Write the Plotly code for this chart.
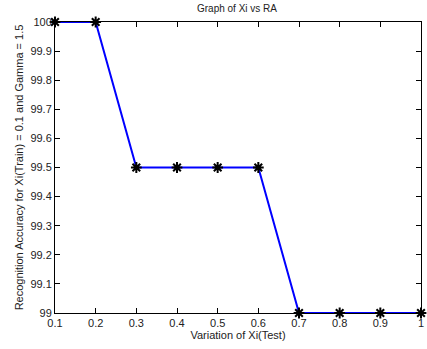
import plotly.graph_objects as go

xi = [0.1, 0.2, 0.3, 0.4, 0.5, 0.6, 0.7, 0.8, 0.9, 1.0]
ra = [100, 100, 99.5, 99.5, 99.5, 99.5, 99, 99, 99, 99]
xticks = [0.1, 0.2, 0.3, 0.4, 0.5, 0.6, 0.7, 0.8, 0.9, 1.0]
xticklabels = ["0.1", "0.2", "0.3", "0.4", "0.5", "0.6", "0.7", "0.8", "0.9", "1"]
yticks = [99, 99.1, 99.2, 99.3, 99.4, 99.5, 99.6, 99.7, 99.8, 99.9, 100]
yticklabels = ["99", "99.1", "99.2", "99.3", "99.4", "99.5", "99.6", "99.7", "99.8", "99.9", "100"]

fig = go.Figure()
fig.add_trace(go.Scatter(
    x=xi, y=ra, mode="lines",
    line=dict(color="#0000ff", width=2),
    showlegend=False, cliponaxis=False))
fig.add_trace(go.Scatter(
    x=xi, y=ra, mode="markers",
    marker=dict(symbol="asterisk-open", size=9, color="black",
                line=dict(color="black", width=2)),
    showlegend=False, cliponaxis=False))

axis_common = dict(
    showgrid=False, zeroline=False, showline=True, linecolor="black",
    linewidth=1, mirror="ticks", ticks="inside", ticklen=5,
    tickcolor="black", ticklabeloverflow="allow",
    tickfont=dict(family="Liberation Sans, Arial", size=11, color="#222"),
)
fig.update_xaxes(range=[0.1, 1.0], tickvals=xticks, ticktext=xticklabels,
                 title=dict(text="Variation of Xi(Test)", standoff=2,
                            font=dict(family="Liberation Sans, Arial", size=11, color="#222")),
                 **axis_common)
fig.update_yaxes(range=[99, 100], tickvals=yticks, ticktext=yticklabels,
                 title=dict(text="Recognition Accuracy for Xi(Train) = 0.1 and Gamma = 1.5", standoff=4,
                            font=dict(family="Liberation Sans, Arial", size=11, color="#222")),
                 **axis_common)
fig.update_layout(
    width=427, height=349,
    margin=dict(l=55, r=3, t=22, b=36),
    paper_bgcolor="white", plot_bgcolor="white",
    title=dict(text="Graph of Xi vs RA", x=0.555, xanchor="center", y=0.985, yanchor="top",
               font=dict(family="Liberation Sans, Arial", size=10, color="#222")),
)
fig.write_html("out.html", config={"displayModeBar": False},
               post_script="document.body.style.margin='0';document.body.style.overflow='hidden';")
